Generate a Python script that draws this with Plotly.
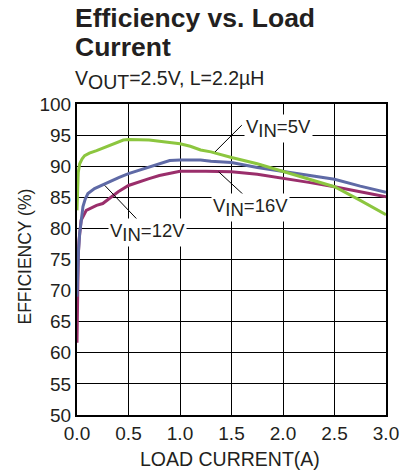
import plotly.graph_objects as go

# ---- data ----
vin5_x = [0.0, 0.005, 0.012, 0.026, 0.05, 0.074, 0.12, 0.19, 0.31, 0.4, 0.45, 0.5, 0.6, 0.7, 0.8, 0.9, 1.0, 1.1, 1.2, 1.3, 1.5, 1.75, 2.0, 2.25, 2.5, 2.75, 3.0]
vin5_y = [82.9, 86.0, 89.0, 90.4, 91.2, 91.7, 92.1, 92.5, 93.3, 93.8, 94.2, 94.3, 94.3, 94.2, 94.0, 93.8, 93.6, 93.2, 92.6, 92.3, 91.4, 90.4, 89.2, 87.9, 86.7, 84.5, 82.2]

vin12_x = [0.0, 0.008, 0.015, 0.026, 0.04, 0.058, 0.08, 0.106, 0.17, 0.31, 0.41, 0.5, 0.6, 0.7, 0.8, 0.9, 1.0, 1.2, 1.3, 1.5, 1.75, 2.0, 2.25, 2.5, 2.75, 3.0]
vin12_y = [69.0, 73.5, 76.5, 79.2, 81.5, 83.5, 84.7, 85.6, 86.4, 87.5, 88.2, 88.8, 89.3, 89.8, 90.4, 90.9, 91.0, 91.0, 90.8, 90.6, 89.8, 89.2, 88.6, 87.9, 86.8, 85.8]

vin16_x = [0.0, 0.005, 0.012, 0.02, 0.04, 0.09, 0.19, 0.25, 0.31, 0.4, 0.5, 0.6, 0.7, 0.8, 0.9, 1.0, 1.25, 1.5, 1.75, 2.0, 2.25, 2.5, 2.75, 3.0]
vin16_y = [61.6, 70.0, 75.5, 78.1, 81.3, 82.9, 83.7, 84.0, 84.8, 85.9, 86.9, 87.5, 88.0, 88.5, 88.9, 89.2, 89.2, 89.1, 88.7, 88.1, 87.4, 86.7, 85.9, 85.1]

x_ticks = [0.0, 0.5, 1.0, 1.5, 2.0, 2.5, 3.0]
y_ticks = [50, 55, 60, 65, 70, 75, 80, 85, 90, 95, 100]

GREEN = "#8CC63F"
BLUE = "#5F6AA6"
MAGENTA = "#9A2E6B"
TXT = "#231F20"
FONT = "Liberation Sans, Arial, sans-serif"

def sub(s, size):
    return f"<sub><span style='font-size:{size}px'>{s}</span></sub>"

fig = go.Figure()
fig.add_trace(go.Scatter(x=vin16_x, y=vin16_y, mode="lines",
                         line=dict(color=MAGENTA, width=3), showlegend=False))
fig.add_trace(go.Scatter(x=vin12_x, y=vin12_y, mode="lines",
                         line=dict(color=BLUE, width=3), showlegend=False))
fig.add_trace(go.Scatter(x=vin5_x, y=vin5_y, mode="lines",
                         line=dict(color=GREEN, width=3), showlegend=False))

# leader lines
leaders = [
    ((1.34, 92.3), (1.60, 96.6)),
    ((1.375, 89.1), (1.65, 84.9)),
    ((0.27, 86.9), (0.65, 80.3)),
]
for (x0, y0), (x1, y1) in leaders:
    fig.add_shape(type="line", xref="x", yref="y", x0=x0, y0=y0, x1=x1, y1=y1,
                  line=dict(color="black", width=1), layer="above")

LBL = 18.5
labels = [
    (1.96, 96.0, "V" + sub("IN", LBL) + "=5V"),
    (1.68, 83.3, "V" + sub("IN", LBL) + "=16V"),
    (0.68, 79.3, "V" + sub("IN", LBL) + "=12V"),
]
for x, y, t in labels:
    fig.add_annotation(x=x, y=y, xref="x", yref="y", text=t, showarrow=False,
                       bgcolor="white", borderpad=1,
                       font=dict(family=FONT, size=LBL, color=TXT))

def py(p):
    return (415.5 - p) / 312.0

def px(p):
    return (p - 77.0) / 312.0

fig.add_annotation(x=px(73), y=py(17), xref="paper", yref="paper",
                   text="<b>Efficiency vs. Load</b>", showarrow=False,
                   xanchor="left", yanchor="middle",
                   font=dict(family=FONT, size=26.5, color=TXT))
fig.add_annotation(x=px(73), y=py(46.5), xref="paper", yref="paper",
                   text="<b>Current</b>", showarrow=False,
                   xanchor="left", yanchor="middle",
                   font=dict(family=FONT, size=26.5, color=TXT))
fig.add_annotation(x=px(73), y=py(79), xref="paper", yref="paper",
                   text="V" + sub("OUT", 19.5) + "=2.5V, L=2.2µH", showarrow=False,
                   xanchor="left", yanchor="middle",
                   font=dict(family=FONT, size=19.5, color=TXT))
fig.add_annotation(x=px(24), y=py(257), xref="paper", yref="paper",
                   text="EFFICIENCY (%)", showarrow=False, textangle=-90,
                   xanchor="center", yanchor="middle",
                   font=dict(family=FONT, size=17.5, color=TXT))
fig.add_annotation(x=px(231), y=py(460), xref="paper", yref="paper",
                   text="LOAD CURRENT(A)", showarrow=False,
                   xanchor="center", yanchor="middle",
                   font=dict(family=FONT, size=19.5, color=TXT))

axis_common = dict(showgrid=True, gridcolor="black", gridwidth=1,
                   showline=True, linecolor="black", linewidth=2, mirror=True,
                   zeroline=False, ticks="",
                   tickfont=dict(family=FONT, size=19, color=TXT))

fig.update_xaxes(range=[0, 3], tickvals=x_ticks,
                 ticktext=[f"{v:.1f}" for v in x_ticks], **axis_common)
fig.update_yaxes(range=[50, 100], tickvals=y_ticks,
                 ticktext=[str(v) for v in y_ticks], **axis_common)

fig.update_layout(width=411, height=475,
                  margin=dict(l=77, r=22, t=103.5, b=59.5),
                  plot_bgcolor="white", paper_bgcolor="white",
                  font=dict(family=FONT, color=TXT))

fig.write_html("out.html")
